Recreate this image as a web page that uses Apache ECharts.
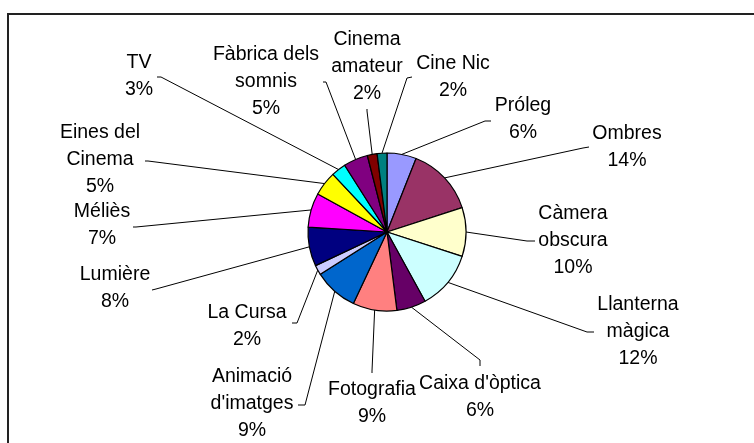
<!DOCTYPE html>
<html>
<head>
<meta charset="utf-8">
<script src="https://cdn.jsdelivr.net/npm/echarts@6/dist/echarts.min.js"></script>
<style>
  html, body { margin: 0; padding: 0; background: #fff; }
  #chart { width: 754px; height: 443px; }
</style>
</head>
<body>
<div id="chart"></div>
<script>
// Stages of the history of cinema, clockwise from 12 o'clock (percent share)
const categories = [
  "Próleg", "Ombres", "Càmera obscura", "Llanterna màgica", "Caixa d'òptica",
  "Fotografia", "Animació d'imatges", "La Cursa", "Lumière", "Méliès",
  "Eines del Cinema", "TV", "Fàbrica dels somnis", "Cinema amateur", "Cine Nic"
];
const values = [6, 14, 10, 12, 6, 9, 9, 2, 8, 7, 5, 3, 5, 2, 2];

// How each category name is broken over lines in its label
const wrappedNames = [
  "Próleg", "Ombres", "Càmera\nobscura", "Llanterna\nmàgica", "Caixa d'òptica",
  "Fotografia", "Animació\nd'imatges", "La Cursa", "Lumière", "Méliès",
  "Eines del\nCinema", "TV", "Fàbrica dels\nsomnis", "Cinema\namateur", "Cine Nic"
];

const sliceColors = [
  "#9999FF", "#993366", "#FFFFCC", "#CCFFFF", "#660066",
  "#FF8080", "#0066CC", "#CCCCFF", "#000080", "#FF00FF",
  "#FFFF00", "#00FFFF", "#800080", "#800000", "#008080"
];

// Label placement: block centre, then the leader line's elbow and end
const labelPlacement = [
  { at: [523, 119], elbow: [485, 121], end: [491, 121] },
  { at: [627, 147], elbow: [583, 148], end: [589, 147] },
  { at: [573, 241], elbow: [527, 241], end: [535, 241] },
  { at: [638, 332], elbow: [587, 332], end: [594, 332] },
  { at: [480, 397], elbow: [480, 360], end: [480, 366] },
  { at: [372, 403], elbow: [372, 371], end: [372, 373] },
  { at: [252, 404], elbow: [305, 405], end: [298, 405] },
  { at: [247, 326], elbow: [297, 323], end: [292, 323] },
  { at: [115, 288], elbow: [156, 289], end: [152, 290] },
  { at: [102, 225], elbow: [136, 227], end: [133, 227] },
  { at: [100, 160], elbow: [148, 161], end: [145, 161] },
  { at: [139, 76],  elbow: [161, 77],  end: [157, 77] },
  { at: [266, 82],  elbow: [326, 82],  end: [323, 82] },
  { at: [367, 67],  elbow: [367, 111], end: [367, 109] },
  { at: [453, 77],  elbow: [407, 78],  end: [412, 77] }
];

const chart = echarts.init(document.getElementById('chart'), null, { renderer: 'canvas' });

chart.setOption({
  backgroundColor: '#ffffff',
  animation: false,
  textStyle: { fontFamily: 'Liberation Sans, Arial, sans-serif' },
  graphic: [{
    type: 'rect',
    shape: { x: 8, y: 14, width: 800, height: 500 },
    style: { fill: 'none', stroke: '#222', lineWidth: 2 },
    silent: true
  }],
  series: [{
    type: 'pie',
    center: [387, 232],
    radius: 79,
    startAngle: 90,
    clockwise: true,
    avoidLabelOverlap: false,
    itemStyle: { borderColor: '#000', borderWidth: 1.2 },
    label: {
      show: true,
      position: 'outside',
      color: '#000',
      fontSize: 19.5,
      lineHeight: 27,
      align: 'center',
      fontFamily: 'Liberation Sans, Arial, sans-serif',
      formatter: function (p) {
        return wrappedNames[p.dataIndex] + '\n' + p.value + '%';
      }
    },
    labelLine: {
      show: true,
      smooth: false,
      lineStyle: { color: '#000', width: 1 }
    },
    labelLayout: function (params) {
      const place = labelPlacement[params.dataIndex];
      const start = params.labelLinePoints ? params.labelLinePoints[0] : place.elbow;
      return {
        x: place.at[0],
        y: place.at[1],
        align: 'center',
        verticalAlign: 'middle',
        labelLinePoints: [start, place.elbow, place.end]
      };
    },
    emphasis: { disabled: true },
    data: categories.map(function (name, i) {
      return { name: name, value: values[i], itemStyle: { color: sliceColors[i] } };
    })
  }]
});
</script>
</body>
</html>
